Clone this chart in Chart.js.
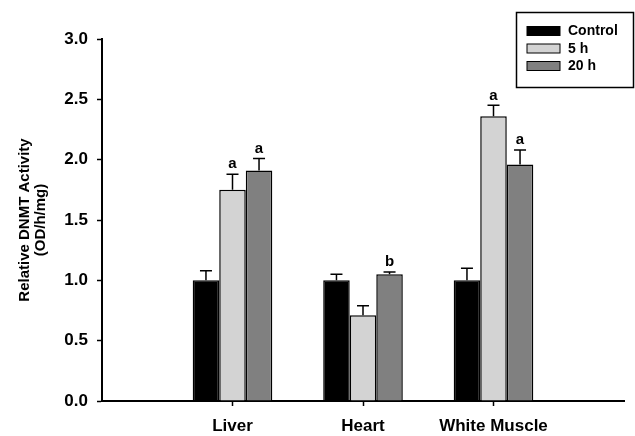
<!DOCTYPE html>
<html lang="en">
<head>
<meta charset="UTF-8">
<title>Relative DNMT Activity</title>
<script src="https://cdn.jsdelivr.net/npm/chart.js@4.4.0/dist/chart.umd.min.js"></script>
<style>
  body { margin: 0; background: #fff; }
  #wrap { width: 635px; height: 436px; }
</style>
</head>
<body>
<div id="wrap"><canvas id="myChart"></canvas></div>
<script>
// tissues sit at x = 1, 2, 3 on a 0..4 axis
const tissues = ['Liver', 'Heart', 'White Muscle'];
const tissuePos = [1, 2, 3];

const seriesNames = ['Control', '5 h', '20 h'];
const controlVals = [1.00, 1.00, 1.00];
const h5Vals = [1.75, 0.71, 2.36];
const h20Vals = [1.91, 1.05, 1.96];

// upper error (SE)
const controlErr = [0.08, 0.05, 0.10];
const h5Err = [0.13, 0.08, 0.09];
const h20Err = [0.10, 0.02, 0.12];

// significance letters
const controlSig = ['', '', ''];
const h5Sig = ['a', '', 'a'];
const h20Sig = ['a', 'b', 'a'];

const yTicks = [0, 0.5, 1.0, 1.5, 2.0, 2.5, 3.0];

const colors = ['#000000', '#d3d3d3', '#808080'];
const errs = [controlErr, h5Err, h20Err];
const sigs = [controlSig, h5Sig, h20Sig];

function points(vals) {
    return vals.map((v, i) => ({ x: tissuePos[i], y: v }));
}

const FONT = 'Liberation Sans, Arial, sans-serif';

// error bars + letters
const errorBars = {
    id: 'errorBars',
    afterDatasetsDraw(chart) {
        const ctx = chart.ctx;
        const y = chart.scales.y;
        ctx.save();
        ctx.strokeStyle = '#000';
        ctx.lineWidth = 1.5;
        ctx.fillStyle = '#000';
        ctx.font = 'bold 15px ' + FONT;
        ctx.textAlign = 'center';
        ctx.textBaseline = 'middle';
        chart.data.datasets.forEach((ds, di) => {
            const meta = chart.getDatasetMeta(di);
            meta.data.forEach((bar, i) => {
                const v = ds.data[i].y;
                const top = y.getPixelForValue(v + errs[di][i]);
                const base = y.getPixelForValue(v);
                ctx.beginPath();
                ctx.moveTo(bar.x, base);
                ctx.lineTo(bar.x, top);
                ctx.moveTo(bar.x - 6, top);
                ctx.lineTo(bar.x + 6, top);
                ctx.stroke();
                if (sigs[di][i]) {
                    ctx.fillText(sigs[di][i], bar.x, top - 10);
                }
            });
        });
        ctx.restore();
    }
};

// boxed legend in the top right corner
const boxLegend = {
    id: 'boxLegend',
    afterDraw(chart) {
        const ctx = chart.ctx;
        ctx.save();
        ctx.strokeStyle = '#000';
        ctx.lineWidth = 1.5;
        ctx.strokeRect(516.5, 12.5, 117, 75);
        ctx.font = 'bold 14px ' + FONT;
        ctx.textBaseline = 'middle';
        ctx.textAlign = 'left';
        chart.data.datasets.forEach((ds, i) => {
            const cy = 31 + i * 17.5;
            ctx.fillStyle = ds.backgroundColor;
            ctx.fillRect(527, cy - 4.5, 33, 9);
            ctx.lineWidth = 1;
            ctx.strokeRect(527, cy - 4.5, 33, 9);
            ctx.fillStyle = '#000';
            ctx.fillText(ds.label, 568, cy + 0.5);
        });
        ctx.restore();
    }
};

const ctx = document.getElementById('myChart').getContext('2d');
const myChart = new Chart(ctx, {
    type: 'bar',
    data: {
        datasets: [
            { label: seriesNames[0], data: points(controlVals), backgroundColor: colors[0] },
            { label: seriesNames[1], data: points(h5Vals), backgroundColor: colors[1] },
            { label: seriesNames[2], data: points(h20Vals), backgroundColor: colors[2] }
        ]
    },
    options: {
        responsive: true,
        maintainAspectRatio: false,
        animation: false,
        layout: { padding: { top: 39, right: 11, left: 0, bottom: 0 } },
        datasets: {
            bar: {
                borderColor: '#000',
                borderWidth: 1.5,
                borderSkipped: 'bottom',
                barPercentage: 1.0,
                categoryPercentage: 0.61
            }
        },
        plugins: {
            legend: { display: false },
            tooltip: { enabled: false }
        },
        scales: {
            x: {
                type: 'linear',
                min: 0,
                max: 4,
                offset: false,
                afterBuildTicks(scale) {
                    scale.ticks = tissuePos.map(v => ({ value: v }));
                },
                afterFit(scale) { scale.height = 35; },
                grid: { offset: false, drawOnChartArea: false, drawTicks: true, tickLength: 5, color: '#000', tickWidth: 1.5 },
                border: { color: '#000', width: 2 },
                ticks: {
                    color: '#000',
                    font: { family: FONT, size: 17, weight: 'bold' },
                    padding: 10,
                    autoSkip: false,
                    maxRotation: 0,
                    callback: (v) => tissues[tissuePos.indexOf(v)]
                }
            },
            y: {
                min: 0,
                max: 3,
                afterBuildTicks(scale) {
                    scale.ticks = yTicks.map(v => ({ value: v }));
                },
                afterFit(scale) { scale.width = 102; },
                grid: { drawOnChartArea: false, drawTicks: true, tickLength: 5, color: '#000', tickWidth: 1.5 },
                border: { color: '#000', width: 2 },
                ticks: {
                    color: '#000',
                    font: { family: FONT, size: 17, weight: 'bold' },
                    padding: 9,
                    callback: (v) => v.toFixed(1)
                },
                title: {
                    display: true,
                    text: ['Relative DNMT Activity', '(OD/h/mg)'],
                    color: '#000',
                    font: { family: FONT, size: 15, weight: 'bold', lineHeight: 1.05 },
                    padding: { top: 17, bottom: 0 }
                }
            }
        }
    },
    plugins: [errorBars, boxLegend]
});
</script>
</body>
</html>
